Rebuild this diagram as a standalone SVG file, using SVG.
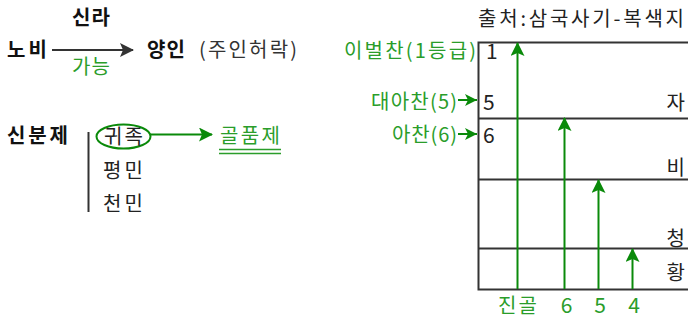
<svg xmlns="http://www.w3.org/2000/svg" width="688" height="320" viewBox="0 0 688 320">
<style>
text{font-family:"Noto Sans CJK KR","Noto Sans",sans-serif;font-size:20px;fill:#222}
.b{font-weight:bold;fill:#111}
.g{fill:#2a9d2a}
.gr{fill:#333}
.n{font-size:21px}
.box{stroke:#333;stroke-width:2;fill:none}
.gl{stroke:#0a8a0a;stroke-width:2;fill:none}
</style>
<defs>
<marker id="ga" viewBox="0 0 14 14" refX="13" refY="7" markerWidth="14" markerHeight="14" markerUnits="userSpaceOnUse" orient="auto">
<path d="M0,0 L14,7 L0,14 L3,7 Z" fill="#0a8a0a"/>
</marker>
<marker id="gs" viewBox="0 0 12 12" refX="12" refY="6" markerWidth="12" markerHeight="12" markerUnits="userSpaceOnUse" orient="auto">
<path d="M0,0 L12,6 L0,12 L3,6 Z" fill="#0a8a0a"/>
</marker>
<marker id="ba" viewBox="0 0 14 14" refX="13" refY="7" markerWidth="14" markerHeight="14" markerUnits="userSpaceOnUse" orient="auto">
<path d="M0,0 L14,7 L0,14 L3,7 Z" fill="#333"/>
</marker>
</defs>
<g id="silla">
<text class="b" x="72" y="25" textLength="38">신라</text>
</g>
<g id="nobi">
<text class="b" x="7" y="57" textLength="40">노비</text>
</g>
<g id="yangin">
<text class="b" x="147" y="57" textLength="38">양인</text>
<text class="gr" x="199" y="57" textLength="98">(주인허락)</text>
</g>
<g id="ganeung">
<text class="g" x="72" y="74" textLength="38">가능</text>
</g>
<g id="sinbunje">
<text class="b" x="7" y="143" textLength="61">신분제</text>
<line x1="88.5" y1="132" x2="88.5" y2="212" stroke="#333" stroke-width="2"/>
</g>
<g id="gwijok">
<ellipse cx="123.5" cy="136.5" rx="27" ry="12" class="gl"/>
<text x="104" y="144" textLength="39">귀족</text>
</g>
<g id="pyeongmin">
<text x="103" y="178" textLength="40">평민</text>
</g>
<g id="cheonmin">
<text x="103" y="211" textLength="40">천민</text>
</g>
<g id="golpumje">
<text class="g" x="220" y="143" textLength="60">골품제</text>
<line x1="219" y1="149.5" x2="281" y2="149.5" stroke="#2a9d2a" stroke-width="1.5"/>
<line x1="219" y1="153.5" x2="281" y2="153.5" stroke="#2a9d2a" stroke-width="1.5"/>
</g>
<g id="source">
<text x="478" y="26" textLength="206">출처:삼국사기-복색지</text>
</g>
<g id="table">
<rect x="478.5" y="42.5" width="215" height="247" class="box"/>
<line x1="478.5" y1="118.5" x2="688" y2="118.5" class="box"/>
<line x1="478.5" y1="179.5" x2="688" y2="179.5" class="box"/>
<line x1="478.5" y1="248.5" x2="688" y2="248.5" class="box"/>
<text class="n" x="486" y="59">1</text>
<text class="n" x="483" y="110">5</text>
<text class="n" x="483" y="143">6</text>
<text x="685" y="110" text-anchor="end">자</text>
<text x="685" y="175" text-anchor="end">비</text>
<text x="685" y="246" text-anchor="end">청</text>
<text x="685" y="280" text-anchor="end">황</text>
</g>
<g id="ranks">
<text class="g" x="344" y="58" textLength="132">이벌찬(1등급)</text>
<text class="g" x="371" y="109" textLength="86">대아찬(5)</text>
<text class="g" x="392" y="142" textLength="65">아찬(6)</text>
</g>
<g id="bottom-labels">
<text class="g" x="498" y="313" textLength="39">진골</text>
<text class="g n" x="566.5" y="313" text-anchor="middle">6</text>
<text class="g n" x="600" y="313" text-anchor="middle">5</text>
<text class="g n" x="634" y="313" text-anchor="middle">4</text>
</g>
<g id="connectors">
<line x1="52" y1="50" x2="133" y2="50" stroke="#333" stroke-width="2" marker-end="url(#ba)"/>
<line x1="150.5" y1="134.5" x2="212" y2="134.5" class="gl" marker-end="url(#ga)"/>
<line x1="517.5" y1="289" x2="517.5" y2="43" class="gl" marker-end="url(#ga)"/>
<line x1="564.5" y1="289" x2="564.5" y2="118" class="gl" marker-end="url(#ga)"/>
<line x1="598.5" y1="289" x2="598.5" y2="180" class="gl" marker-end="url(#ga)"/>
<line x1="632.5" y1="289" x2="632.5" y2="249" class="gl" marker-end="url(#ga)"/>
<line x1="458" y1="100" x2="477" y2="100" class="gl" marker-end="url(#gs)"/>
<line x1="458" y1="134" x2="477" y2="134" class="gl" marker-end="url(#gs)"/>
</g>
</svg>
